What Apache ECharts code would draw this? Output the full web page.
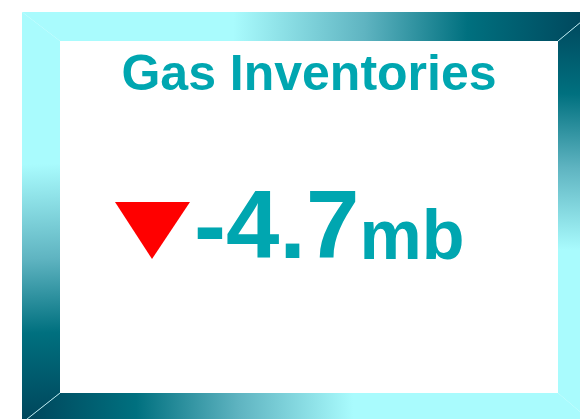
<!DOCTYPE html>
<html>
<head>
<meta charset="utf-8">
<title>Gas Inventories</title>
<script src="https://cdn.jsdelivr.net/npm/echarts@6/dist/echarts.min.js"></script>
<style>
  html, body { margin: 0; padding: 0; background: #ffffff; }
  #main { width: 580px; height: 419px; }
</style>
</head>
<body>
<div id="main"></div>
<script>
// KPI data
const labels = ['Gas Inventories'];
const values = [-4.7];
const units = ['mb'];

const FONT = '"Liberation Sans", Arial, sans-serif';
const TEAL = '#00a6b0';

// frame: outer and inner box
const outer = { x1: 22, y1: 12, x2: 593, y2: 423 };
const inner = { x1: 60, y1: 41, x2: 558, y2: 393 };

const LIGHT = '#a9fbfd', MID = '#5fb4c1', DARK = '#00707f', DARKEST = '#00445a';

function grad(x, y, x2, y2, stops) {
  return new echarts.graphic.LinearGradient(x, y, x2, y2,
    stops.map(s => ({ offset: s[0], color: s[1] })));
}

// light -> dark along band
const fadeOut = [[0, LIGHT], [0.37, LIGHT], [0.6, MID], [0.78, DARK], [1, DARKEST]];
// dark -> light along band
const fadeIn = [[0, DARKEST], [0.2, DARK], [0.38, MID], [0.58, LIGHT], [1, LIGHT]];

function measure(text, size) {
  const ctx = document.createElement('canvas').getContext('2d');
  ctx.font = 'bold ' + size + 'px ' + FONT;
  return ctx.measureText(text).width;
}

const chart = echarts.init(document.getElementById('main'));

const o = outer, i = inner;
const valueText = values[0].toFixed(1);
const valueSize = 96, unitSize = 70;
const valueX = 194;
const unitX = valueX + measure(valueText, valueSize);
const down = values[0] < 0;

chart.setOption({
  backgroundColor: '#ffffff',
  animation: false,
  graphic: [
    { type: 'rect', shape: { x: i.x1, y: i.y1, width: i.x2 - i.x1, height: i.y2 - i.y1 }, style: { fill: '#ffffff' } },
    // top band
    { type: 'polygon', shape: { points: [[o.x1, o.y1], [o.x2, o.y1], [i.x2, i.y1], [i.x1, i.y1]] },
      style: { fill: grad(0, 0.3, 1, 0.7, fadeOut) } },
    // left band
    { type: 'polygon', shape: { points: [[o.x1, o.y1], [i.x1, i.y1], [i.x1, i.y2], [o.x1, o.y2]] },
      style: { fill: grad(0.3, 0, 0.7, 1, fadeOut) } },
    // right band
    { type: 'polygon', shape: { points: [[o.x2, o.y1], [o.x2, o.y2], [i.x2, i.y2], [i.x2, i.y1]] },
      style: { fill: grad(0.7, 0, 0.3, 1, fadeIn) } },
    // bottom band
    { type: 'polygon', shape: { points: [[o.x1, o.y2], [i.x1, i.y2], [i.x2, i.y2], [o.x2, o.y2]] },
      style: { fill: grad(0, 0.7, 1, 0.3, fadeIn) } },
    // bevel highlights
    { type: 'line', shape: { x1: i.x2, y1: i.y1, x2: o.x2, y2: o.y1 }, style: { stroke: '#b5e6ec', lineWidth: 1 } },
    { type: 'line', shape: { x1: i.x1, y1: i.y2, x2: o.x1, y2: o.y2 }, style: { stroke: '#b5e6ec', lineWidth: 1 } },
    // title
    { type: 'text', style: { x: 309, y: 76, text: labels[0], fill: TEAL,
      font: 'bold 50px ' + FONT, textAlign: 'center', textVerticalAlign: 'middle' } },
    // arrow
    { type: 'polygon', shape: { points: down ? [[115, 202], [190, 202], [152, 259]] : [[115, 259], [190, 259], [152, 202]] },
      style: { fill: down ? '#ff0000' : '#00b050' } },
    // value + unit
    { type: 'text', style: { x: valueX, y: 232, text: valueText, fill: TEAL,
      font: 'bold ' + valueSize + 'px ' + FONT, textAlign: 'left', textVerticalAlign: 'middle' } },
    { type: 'text', style: { x: unitX, y: 240, text: units[0], fill: TEAL,
      font: 'bold ' + unitSize + 'px ' + FONT, textAlign: 'left', textVerticalAlign: 'middle' } }
  ]
});
</script>
</body>
</html>
